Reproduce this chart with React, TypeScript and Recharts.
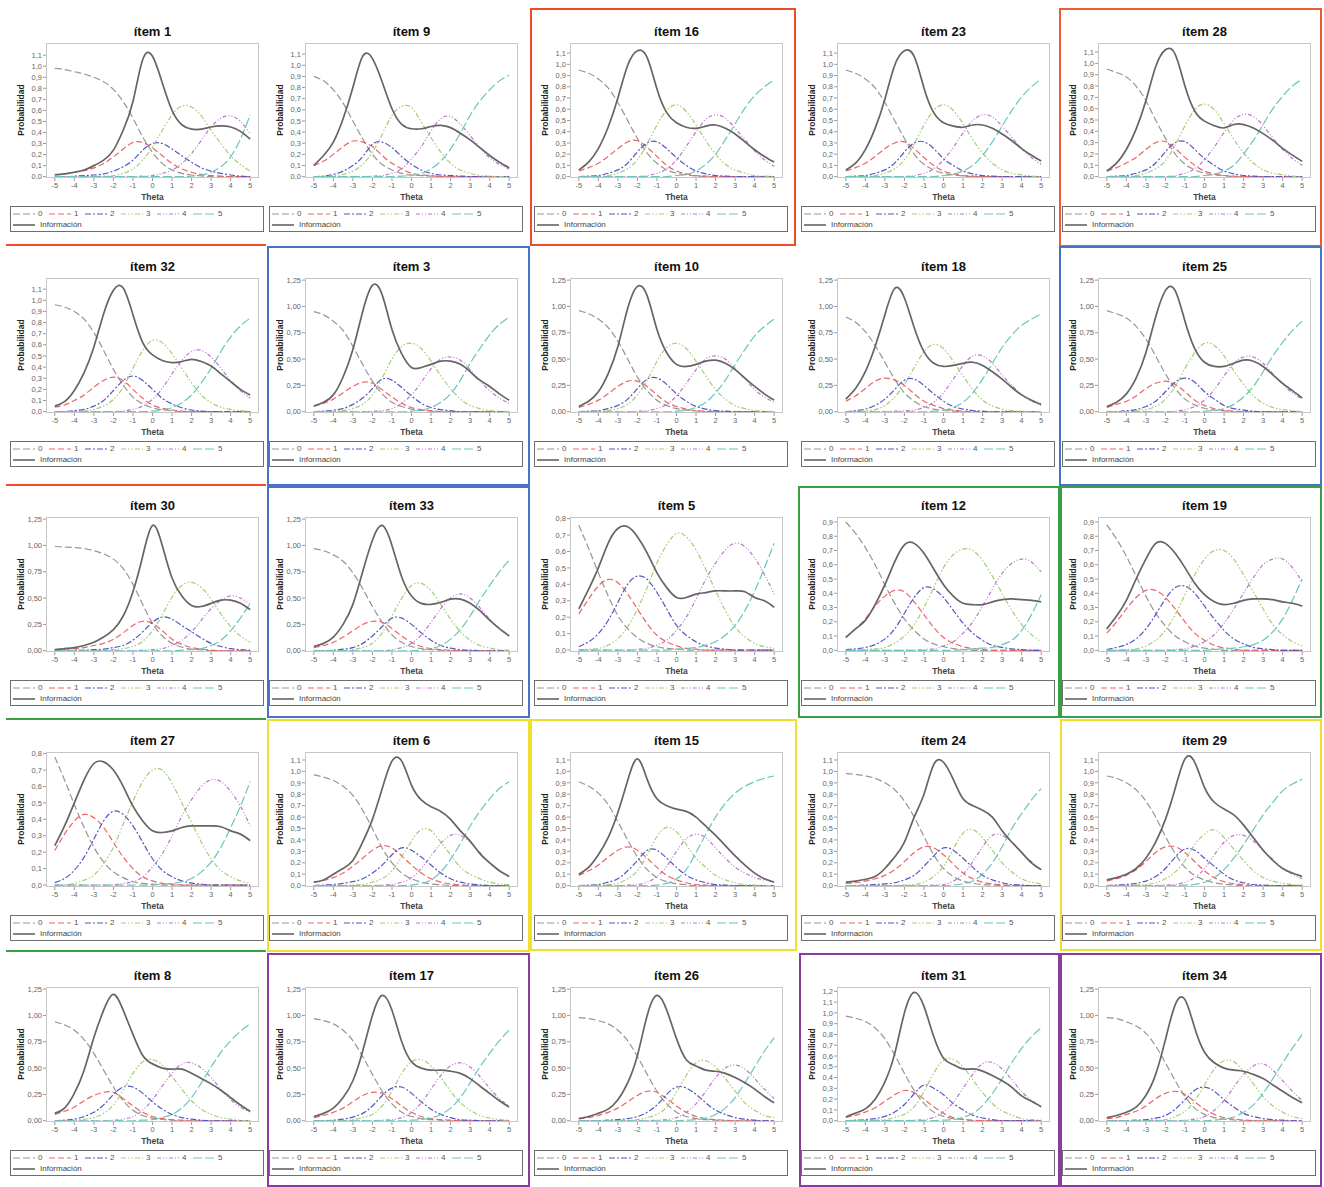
import { LineChart, Line, XAxis, YAxis } from "recharts";

// theta grid shared by every item (step 0.5)
const THETA = [-5, -4.5, -4, -3.5, -3, -2.5, -2, -1.5, -1, -0.5, 0, 0.5, 1, 1.5, 2, 2.5, 3, 3.5, 4, 4.5, 5];
const X_TICKS = [-5, -4, -3, -2, -1, 0, 1, 2, 3, 4, 5];
const CATEGORIES = ["0", "1", "2", "3", "4", "5"];

const TICKS_08 = [0, 0.1, 0.2, 0.3, 0.4, 0.5, 0.6, 0.7, 0.8];
const TICKS_09 = [0, 0.1, 0.2, 0.3, 0.4, 0.5, 0.6, 0.7, 0.8, 0.9];
const TICKS_11 = [0, 0.1, 0.2, 0.3, 0.4, 0.5, 0.6, 0.7, 0.8, 0.9, 1.0, 1.1];
const TICKS_12 = [0, 0.1, 0.2, 0.3, 0.4, 0.5, 0.6, 0.7, 0.8, 0.9, 1.0, 1.1, 1.2];
const TICKS_125 = [0, 0.25, 0.5, 0.75, 1.0, 1.25];

// each item: categories 0..5, then información
const ITEM_1 = [
  [0.98, 0.97, 0.95, 0.93, 0.9, 0.86, 0.79, 0.68, 0.53, 0.36, 0.22, 0.12, 0.06, 0.03, 0.015, 0.007, 0, 0, 0, 0, 0],
  [0.02, 0.025, 0.04, 0.055, 0.08, 0.12, 0.18, 0.25, 0.31, 0.31, 0.26, 0.19, 0.12, 0.07, 0.04, 0.02, 0.01, 0.005, 0, 0, 0],
  [0, 0, 0.005, 0.01, 0.015, 0.025, 0.05, 0.09, 0.15, 0.24, 0.3, 0.3, 0.25, 0.19, 0.13, 0.08, 0.05, 0.03, 0.015, 0.005, 0],
  [0, 0, 0, 0, 0, 0.005, 0.01, 0.03, 0.07, 0.15, 0.27, 0.42, 0.56, 0.64, 0.63, 0.55, 0.42, 0.3, 0.19, 0.11, 0.05],
  [0, 0, 0, 0, 0, 0, 0, 0, 0, 0.005, 0.01, 0.03, 0.06, 0.12, 0.21, 0.33, 0.45, 0.53, 0.55, 0.5, 0.39],
  [0, 0, 0, 0, 0, 0, 0, 0, 0, 0, 0, 0, 0, 0, 0.005, 0.015, 0.04, 0.09, 0.18, 0.34, 0.56],
  [0.015, 0.025, 0.04, 0.06, 0.1, 0.15, 0.24, 0.42, 0.68, 1.06, 1.09, 0.85, 0.6, 0.47, 0.43, 0.43, 0.45, 0.46, 0.45, 0.41, 0.34],
];
const ITEM_9 = [
  [0.9, 0.86, 0.78, 0.66, 0.5, 0.34, 0.2, 0.11, 0.06, 0.03, 0.015, 0.01, 0.005, 0, 0, 0, 0, 0, 0, 0, 0],
  [0.1, 0.14, 0.2, 0.27, 0.32, 0.31, 0.27, 0.19, 0.12, 0.07, 0.03, 0.015, 0.01, 0, 0, 0, 0, 0, 0, 0, 0],
  [0, 0.005, 0.02, 0.05, 0.1, 0.18, 0.29, 0.31, 0.26, 0.18, 0.11, 0.06, 0.03, 0.015, 0.01, 0.005, 0, 0, 0, 0, 0],
  [0, 0, 0.01, 0.02, 0.05, 0.11, 0.22, 0.38, 0.55, 0.63, 0.62, 0.49, 0.35, 0.22, 0.12, 0.06, 0.03, 0.01, 0.005, 0, 0],
  [0, 0, 0, 0, 0, 0, 0.005, 0.01, 0.03, 0.07, 0.16, 0.27, 0.41, 0.52, 0.54, 0.47, 0.37, 0.26, 0.17, 0.11, 0.07],
  [0, 0, 0, 0, 0, 0, 0, 0, 0, 0.005, 0.01, 0.03, 0.07, 0.14, 0.25, 0.39, 0.55, 0.68, 0.78, 0.86, 0.91],
  [0.1, 0.19, 0.31, 0.52, 0.8, 1.08, 1.06, 0.85, 0.61, 0.47, 0.43, 0.43, 0.45, 0.46, 0.44, 0.39, 0.33, 0.26, 0.19, 0.13, 0.08],
];
const ITEM_16 = [
  [0.95, 0.92, 0.87, 0.79, 0.66, 0.5, 0.34, 0.21, 0.12, 0.06, 0.03, 0.015, 0.007, 0, 0, 0, 0, 0, 0, 0, 0],
  [0.05, 0.08, 0.12, 0.18, 0.25, 0.31, 0.32, 0.26, 0.18, 0.1, 0.05, 0.025, 0.01, 0.005, 0, 0, 0, 0, 0, 0, 0],
  [0, 0.005, 0.01, 0.03, 0.06, 0.12, 0.22, 0.3, 0.31, 0.25, 0.17, 0.1, 0.05, 0.025, 0.01, 0.005, 0, 0, 0, 0, 0],
  [0, 0, 0.005, 0.01, 0.03, 0.07, 0.15, 0.29, 0.46, 0.59, 0.64, 0.58, 0.46, 0.32, 0.2, 0.11, 0.06, 0.03, 0.01, 0.005, 0],
  [0, 0, 0, 0, 0, 0, 0, 0.01, 0.03, 0.07, 0.15, 0.27, 0.4, 0.51, 0.55, 0.52, 0.43, 0.33, 0.23, 0.15, 0.09],
  [0, 0, 0, 0, 0, 0, 0, 0, 0, 0, 0.01, 0.02, 0.05, 0.11, 0.2, 0.33, 0.47, 0.61, 0.72, 0.8, 0.86],
  [0.06, 0.13, 0.25, 0.44, 0.7, 0.99, 1.12, 1.06, 0.78, 0.57, 0.48, 0.44, 0.43, 0.45, 0.46, 0.43, 0.38, 0.31, 0.24, 0.18, 0.13],
];
const ITEM_23 = [
  [0.95, 0.92, 0.87, 0.79, 0.66, 0.5, 0.34, 0.2, 0.11, 0.06, 0.03, 0.015, 0.007, 0, 0, 0, 0, 0, 0, 0, 0],
  [0.05, 0.08, 0.12, 0.18, 0.25, 0.3, 0.31, 0.25, 0.17, 0.1, 0.05, 0.025, 0.01, 0.005, 0, 0, 0, 0, 0, 0, 0],
  [0, 0.005, 0.01, 0.03, 0.06, 0.12, 0.22, 0.3, 0.31, 0.25, 0.16, 0.1, 0.05, 0.025, 0.01, 0.005, 0, 0, 0, 0, 0],
  [0, 0, 0.005, 0.01, 0.03, 0.07, 0.15, 0.29, 0.46, 0.59, 0.64, 0.59, 0.47, 0.33, 0.21, 0.12, 0.06, 0.03, 0.015, 0.005, 0],
  [0, 0, 0, 0, 0, 0, 0, 0.01, 0.03, 0.07, 0.15, 0.26, 0.39, 0.5, 0.55, 0.53, 0.45, 0.35, 0.25, 0.17, 0.11],
  [0, 0, 0, 0, 0, 0, 0, 0, 0, 0, 0.01, 0.02, 0.05, 0.1, 0.19, 0.31, 0.45, 0.59, 0.71, 0.8, 0.87],
  [0.06, 0.12, 0.24, 0.43, 0.69, 0.99, 1.12, 1.07, 0.79, 0.57, 0.48, 0.45, 0.44, 0.46, 0.46, 0.43, 0.38, 0.32, 0.25, 0.19, 0.14],
];
const ITEM_28 = [
  [0.95, 0.92, 0.88, 0.8, 0.67, 0.5, 0.34, 0.2, 0.11, 0.06, 0.03, 0.015, 0.01, 0, 0, 0, 0, 0, 0, 0, 0],
  [0.05, 0.08, 0.12, 0.17, 0.24, 0.3, 0.31, 0.25, 0.17, 0.1, 0.05, 0.025, 0.01, 0.005, 0, 0, 0, 0, 0, 0, 0],
  [0, 0.005, 0.01, 0.03, 0.06, 0.12, 0.22, 0.3, 0.31, 0.24, 0.16, 0.1, 0.05, 0.025, 0.01, 0.005, 0, 0, 0, 0, 0],
  [0, 0, 0.005, 0.01, 0.03, 0.07, 0.14, 0.28, 0.45, 0.59, 0.64, 0.59, 0.47, 0.33, 0.21, 0.12, 0.06, 0.03, 0.015, 0.005, 0],
  [0, 0, 0, 0, 0, 0, 0, 0.01, 0.03, 0.07, 0.15, 0.26, 0.39, 0.5, 0.55, 0.53, 0.45, 0.34, 0.24, 0.16, 0.1],
  [0, 0, 0, 0, 0, 0, 0, 0, 0, 0, 0.01, 0.02, 0.05, 0.1, 0.2, 0.32, 0.46, 0.6, 0.71, 0.8, 0.86],
  [0.05, 0.12, 0.24, 0.42, 0.67, 0.97, 1.12, 1.08, 0.8, 0.58, 0.49, 0.45, 0.43, 0.46, 0.46, 0.43, 0.38, 0.32, 0.25, 0.19, 0.135],
];
const ITEM_32 = [
  [0.96, 0.94, 0.9, 0.83, 0.71, 0.55, 0.38, 0.24, 0.13, 0.07, 0.035, 0.017, 0.008, 0, 0, 0, 0, 0, 0, 0, 0],
  [0.04, 0.06, 0.1, 0.15, 0.22, 0.28, 0.31, 0.28, 0.2, 0.12, 0.06, 0.03, 0.015, 0.005, 0, 0, 0, 0, 0, 0, 0],
  [0, 0, 0.01, 0.02, 0.05, 0.1, 0.19, 0.28, 0.32, 0.28, 0.2, 0.12, 0.07, 0.035, 0.015, 0.005, 0, 0, 0, 0, 0],
  [0, 0, 0, 0.005, 0.02, 0.05, 0.11, 0.22, 0.39, 0.55, 0.64, 0.62, 0.52, 0.39, 0.26, 0.15, 0.08, 0.04, 0.02, 0.01, 0],
  [0, 0, 0, 0, 0, 0, 0, 0.005, 0.02, 0.05, 0.11, 0.21, 0.34, 0.46, 0.54, 0.55, 0.49, 0.39, 0.28, 0.19, 0.12],
  [0, 0, 0, 0, 0, 0, 0, 0, 0, 0, 0.005, 0.015, 0.035, 0.08, 0.15, 0.26, 0.39, 0.54, 0.67, 0.77, 0.84],
  [0.05, 0.09, 0.19, 0.35, 0.58, 0.88, 1.09, 1.11, 0.87, 0.62, 0.51, 0.46, 0.44, 0.45, 0.47, 0.45, 0.41, 0.34, 0.27, 0.2, 0.15],
];
const ITEM_3 = [
  [0.95, 0.92, 0.86, 0.77, 0.62, 0.45, 0.29, 0.17, 0.09, 0.05, 0.025, 0.012, 0.006, 0, 0, 0, 0, 0, 0, 0, 0],
  [0.05, 0.08, 0.12, 0.18, 0.24, 0.28, 0.27, 0.21, 0.14, 0.08, 0.04, 0.02, 0.01, 0, 0, 0, 0, 0, 0, 0, 0],
  [0, 0.005, 0.015, 0.03, 0.07, 0.13, 0.22, 0.31, 0.3, 0.23, 0.15, 0.08, 0.04, 0.02, 0.01, 0, 0, 0, 0, 0, 0],
  [0, 0, 0.005, 0.01, 0.03, 0.07, 0.16, 0.32, 0.5, 0.62, 0.65, 0.6, 0.48, 0.34, 0.22, 0.12, 0.06, 0.03, 0.01, 0.005, 0],
  [0, 0, 0, 0, 0, 0, 0.005, 0.01, 0.03, 0.08, 0.16, 0.28, 0.41, 0.5, 0.52, 0.49, 0.4, 0.29, 0.2, 0.13, 0.08],
  [0, 0, 0, 0, 0, 0, 0, 0, 0, 0, 0.005, 0.015, 0.04, 0.09, 0.17, 0.3, 0.46, 0.6, 0.73, 0.83, 0.9],
  [0.055, 0.09, 0.16, 0.33, 0.59, 0.95, 1.2, 1.11, 0.78, 0.55, 0.42, 0.42, 0.45, 0.48, 0.48, 0.45, 0.38, 0.3, 0.24, 0.17, 0.11],
];
const ITEM_10 = [
  [0.96, 0.93, 0.88, 0.8, 0.67, 0.5, 0.33, 0.2, 0.11, 0.06, 0.03, 0.015, 0.007, 0, 0, 0, 0, 0, 0, 0, 0],
  [0.04, 0.07, 0.11, 0.17, 0.24, 0.29, 0.29, 0.24, 0.16, 0.09, 0.05, 0.025, 0.01, 0.005, 0, 0, 0, 0, 0, 0, 0],
  [0, 0.005, 0.01, 0.03, 0.06, 0.12, 0.22, 0.31, 0.32, 0.26, 0.17, 0.1, 0.05, 0.025, 0.01, 0.005, 0, 0, 0, 0, 0],
  [0, 0, 0.005, 0.01, 0.03, 0.07, 0.16, 0.3, 0.48, 0.61, 0.65, 0.6, 0.48, 0.34, 0.21, 0.12, 0.06, 0.03, 0.01, 0.005, 0],
  [0, 0, 0, 0, 0, 0, 0.005, 0.01, 0.03, 0.07, 0.15, 0.27, 0.4, 0.5, 0.53, 0.5, 0.41, 0.31, 0.21, 0.14, 0.09],
  [0, 0, 0, 0, 0, 0, 0, 0, 0, 0, 0.005, 0.015, 0.04, 0.09, 0.18, 0.3, 0.45, 0.59, 0.72, 0.81, 0.88],
  [0.05, 0.1, 0.19, 0.36, 0.62, 0.98, 1.19, 1.1, 0.78, 0.56, 0.45, 0.43, 0.45, 0.48, 0.49, 0.46, 0.4, 0.32, 0.24, 0.17, 0.11],
];
const ITEM_18 = [
  [0.9, 0.85, 0.76, 0.63, 0.47, 0.31, 0.18, 0.1, 0.05, 0.025, 0.012, 0.006, 0, 0, 0, 0, 0, 0, 0, 0, 0],
  [0.1, 0.15, 0.22, 0.29, 0.32, 0.3, 0.25, 0.17, 0.1, 0.06, 0.03, 0.015, 0.006, 0, 0, 0, 0, 0, 0, 0, 0],
  [0, 0.01, 0.025, 0.06, 0.12, 0.21, 0.3, 0.31, 0.25, 0.17, 0.1, 0.05, 0.025, 0.012, 0.005, 0, 0, 0, 0, 0, 0],
  [0, 0, 0.01, 0.02, 0.06, 0.14, 0.26, 0.42, 0.57, 0.64, 0.6, 0.48, 0.34, 0.21, 0.11, 0.055, 0.025, 0.01, 0.005, 0, 0],
  [0, 0, 0, 0, 0, 0.005, 0.01, 0.015, 0.04, 0.09, 0.18, 0.31, 0.44, 0.53, 0.53, 0.46, 0.35, 0.25, 0.16, 0.1, 0.06],
  [0, 0, 0, 0, 0, 0, 0, 0, 0, 0.005, 0.015, 0.04, 0.09, 0.18, 0.31, 0.46, 0.61, 0.73, 0.82, 0.88, 0.93],
  [0.12, 0.22, 0.38, 0.62, 0.92, 1.17, 1.08, 0.8, 0.57, 0.46, 0.43, 0.44, 0.46, 0.47, 0.44, 0.38, 0.31, 0.23, 0.16, 0.11, 0.07],
];
const ITEM_25 = [
  [0.96, 0.93, 0.89, 0.81, 0.69, 0.53, 0.36, 0.22, 0.12, 0.065, 0.033, 0.016, 0.008, 0, 0, 0, 0, 0, 0, 0, 0],
  [0.04, 0.07, 0.1, 0.15, 0.22, 0.27, 0.29, 0.26, 0.19, 0.11, 0.06, 0.03, 0.015, 0.005, 0, 0, 0, 0, 0, 0, 0],
  [0, 0, 0.01, 0.02, 0.05, 0.1, 0.19, 0.28, 0.32, 0.28, 0.19, 0.12, 0.06, 0.03, 0.015, 0.005, 0, 0, 0, 0, 0],
  [0, 0, 0, 0.005, 0.02, 0.05, 0.12, 0.24, 0.41, 0.56, 0.65, 0.63, 0.53, 0.39, 0.26, 0.15, 0.08, 0.04, 0.02, 0.01, 0],
  [0, 0, 0, 0, 0, 0, 0, 0.005, 0.02, 0.05, 0.11, 0.21, 0.34, 0.46, 0.52, 0.52, 0.46, 0.36, 0.26, 0.18, 0.12],
  [0, 0, 0, 0, 0, 0, 0, 0, 0, 0, 0.005, 0.01, 0.03, 0.07, 0.14, 0.24, 0.38, 0.53, 0.66, 0.77, 0.86],
  [0.05, 0.09, 0.17, 0.32, 0.56, 0.9, 1.15, 1.15, 0.86, 0.6, 0.47, 0.43, 0.43, 0.46, 0.49, 0.48, 0.43, 0.35, 0.27, 0.2, 0.13],
];
const ITEM_30 = [
  [0.99, 0.985, 0.98, 0.97, 0.95, 0.92, 0.87, 0.78, 0.63, 0.44, 0.26, 0.14, 0.07, 0.035, 0.015, 0.008, 0, 0, 0, 0, 0],
  [0.01, 0.015, 0.02, 0.03, 0.05, 0.07, 0.11, 0.17, 0.24, 0.28, 0.26, 0.19, 0.11, 0.06, 0.03, 0.015, 0.005, 0, 0, 0, 0],
  [0, 0, 0.005, 0.005, 0.01, 0.015, 0.03, 0.05, 0.1, 0.18, 0.27, 0.32, 0.3, 0.24, 0.18, 0.12, 0.07, 0.04, 0.02, 0.01, 0.005],
  [0, 0, 0, 0, 0, 0.005, 0.01, 0.02, 0.04, 0.09, 0.19, 0.34, 0.51, 0.62, 0.65, 0.6, 0.49, 0.35, 0.23, 0.14, 0.08],
  [0, 0, 0, 0, 0, 0, 0, 0, 0, 0.005, 0.01, 0.02, 0.05, 0.1, 0.18, 0.29, 0.4, 0.48, 0.52, 0.5, 0.44],
  [0, 0, 0, 0, 0, 0, 0, 0, 0, 0, 0, 0, 0, 0.005, 0.01, 0.02, 0.05, 0.1, 0.19, 0.31, 0.45],
  [0.01, 0.02, 0.03, 0.05, 0.08, 0.13, 0.2, 0.33, 0.56, 0.9, 1.19, 1.0, 0.69, 0.52, 0.43, 0.42, 0.45, 0.48, 0.48, 0.45, 0.39],
];
const ITEM_33 = [
  [0.97, 0.95, 0.91, 0.85, 0.74, 0.59, 0.42, 0.27, 0.15, 0.08, 0.04, 0.02, 0.01, 0.005, 0, 0, 0, 0, 0, 0, 0],
  [0.03, 0.05, 0.08, 0.13, 0.19, 0.25, 0.28, 0.27, 0.21, 0.14, 0.08, 0.04, 0.02, 0.01, 0.005, 0, 0, 0, 0, 0, 0],
  [0, 0, 0.005, 0.015, 0.03, 0.07, 0.14, 0.23, 0.31, 0.31, 0.25, 0.17, 0.1, 0.05, 0.025, 0.01, 0.005, 0, 0, 0, 0],
  [0, 0, 0, 0, 0.01, 0.03, 0.07, 0.17, 0.33, 0.5, 0.62, 0.64, 0.57, 0.44, 0.3, 0.18, 0.1, 0.05, 0.025, 0.01, 0.005],
  [0, 0, 0, 0, 0, 0, 0, 0, 0.01, 0.03, 0.07, 0.15, 0.27, 0.4, 0.5, 0.54, 0.5, 0.41, 0.3, 0.21, 0.14],
  [0, 0, 0, 0, 0, 0, 0, 0, 0, 0, 0, 0.005, 0.02, 0.05, 0.11, 0.2, 0.33, 0.48, 0.62, 0.75, 0.86],
  [0.04, 0.07, 0.13, 0.25, 0.44, 0.75, 1.05, 1.19, 1.0, 0.7, 0.52, 0.45, 0.44, 0.46, 0.49, 0.49, 0.45, 0.38, 0.29, 0.21, 0.14],
];
const ITEM_5 = [
  [0.76, 0.62, 0.47, 0.33, 0.21, 0.13, 0.075, 0.04, 0.02, 0.01, 0.005, 0, 0, 0, 0, 0, 0, 0, 0, 0, 0],
  [0.22, 0.31, 0.39, 0.43, 0.41, 0.34, 0.25, 0.16, 0.09, 0.05, 0.025, 0.01, 0.005, 0, 0, 0, 0, 0, 0, 0, 0],
  [0.02, 0.05, 0.1, 0.18, 0.29, 0.4, 0.45, 0.43, 0.35, 0.25, 0.15, 0.09, 0.05, 0.025, 0.012, 0.005, 0, 0, 0, 0, 0],
  [0, 0.005, 0.01, 0.03, 0.07, 0.14, 0.25, 0.38, 0.53, 0.64, 0.71, 0.69, 0.61, 0.49, 0.36, 0.24, 0.14, 0.08, 0.04, 0.02, 0.01],
  [0, 0, 0, 0, 0, 0, 0.005, 0.01, 0.03, 0.06, 0.12, 0.2, 0.31, 0.43, 0.53, 0.61, 0.65, 0.63, 0.56, 0.46, 0.34],
  [0, 0, 0, 0, 0, 0, 0, 0, 0, 0, 0.005, 0.01, 0.015, 0.03, 0.05, 0.09, 0.15, 0.24, 0.36, 0.5, 0.65],
  [0.25, 0.37, 0.5, 0.65, 0.74, 0.75, 0.69, 0.59, 0.47, 0.38, 0.32, 0.32, 0.34, 0.35, 0.36, 0.36, 0.36, 0.355, 0.32, 0.3, 0.26],
];
const ITEM_12 = [
  [0.9, 0.82, 0.72, 0.6, 0.46, 0.33, 0.22, 0.14, 0.08, 0.045, 0.025, 0.012, 0.005, 0, 0, 0, 0, 0, 0, 0, 0],
  [0.09, 0.15, 0.22, 0.31, 0.38, 0.42, 0.41, 0.34, 0.25, 0.16, 0.09, 0.05, 0.025, 0.012, 0.005, 0, 0, 0, 0, 0, 0],
  [0.005, 0.01, 0.02, 0.04, 0.08, 0.15, 0.26, 0.37, 0.44, 0.43, 0.37, 0.28, 0.19, 0.12, 0.07, 0.035, 0.02, 0.01, 0.005, 0, 0],
  [0, 0, 0.005, 0.01, 0.02, 0.05, 0.1, 0.18, 0.3, 0.44, 0.58, 0.67, 0.71, 0.7, 0.63, 0.52, 0.4, 0.28, 0.18, 0.11, 0.06],
  [0, 0, 0, 0, 0, 0, 0, 0, 0.005, 0.01, 0.03, 0.06, 0.12, 0.2, 0.31, 0.43, 0.54, 0.61, 0.64, 0.62, 0.55],
  [0, 0, 0, 0, 0, 0, 0, 0, 0, 0, 0, 0, 0.005, 0.01, 0.015, 0.02, 0.04, 0.07, 0.14, 0.25, 0.39],
  [0.09, 0.15, 0.21, 0.32, 0.46, 0.62, 0.74, 0.75, 0.68, 0.57, 0.46, 0.38, 0.33, 0.32, 0.32, 0.34, 0.355, 0.36, 0.355, 0.35, 0.34],
];
const ITEM_19 = [
  [0.88, 0.78, 0.66, 0.52, 0.38, 0.26, 0.17, 0.1, 0.06, 0.03, 0.015, 0.007, 0, 0, 0, 0, 0, 0, 0, 0, 0],
  [0.12, 0.2, 0.29, 0.37, 0.42, 0.42, 0.37, 0.29, 0.2, 0.12, 0.07, 0.035, 0.017, 0.008, 0, 0, 0, 0, 0, 0, 0],
  [0.005, 0.02, 0.04, 0.08, 0.15, 0.25, 0.36, 0.44, 0.45, 0.4, 0.31, 0.22, 0.14, 0.08, 0.045, 0.02, 0.01, 0.005, 0, 0, 0],
  [0, 0, 0.005, 0.01, 0.03, 0.07, 0.14, 0.25, 0.39, 0.53, 0.64, 0.7, 0.7, 0.64, 0.53, 0.41, 0.29, 0.18, 0.11, 0.06, 0.03],
  [0, 0, 0, 0, 0, 0, 0, 0.005, 0.01, 0.03, 0.06, 0.11, 0.19, 0.29, 0.4, 0.51, 0.6, 0.64, 0.64, 0.58, 0.48],
  [0, 0, 0, 0, 0, 0, 0, 0, 0, 0, 0, 0.005, 0.01, 0.015, 0.025, 0.04, 0.07, 0.13, 0.22, 0.35, 0.5],
  [0.15, 0.24, 0.35, 0.5, 0.64, 0.75, 0.75, 0.68, 0.58, 0.47, 0.39, 0.34, 0.32, 0.33, 0.35, 0.36, 0.36, 0.355, 0.34, 0.33, 0.31],
];
const ITEM_27 = [
  [0.78, 0.64, 0.49, 0.35, 0.23, 0.14, 0.08, 0.045, 0.02, 0.01, 0.005, 0, 0, 0, 0, 0, 0, 0, 0, 0, 0],
  [0.21, 0.31, 0.39, 0.43, 0.41, 0.35, 0.26, 0.17, 0.1, 0.05, 0.025, 0.01, 0.005, 0, 0, 0, 0, 0, 0, 0, 0],
  [0.015, 0.04, 0.09, 0.17, 0.28, 0.39, 0.45, 0.43, 0.36, 0.26, 0.16, 0.09, 0.05, 0.025, 0.012, 0.005, 0, 0, 0, 0, 0],
  [0, 0, 0.01, 0.03, 0.06, 0.13, 0.23, 0.37, 0.51, 0.63, 0.7, 0.7, 0.62, 0.5, 0.38, 0.26, 0.16, 0.09, 0.05, 0.025, 0.01],
  [0, 0, 0, 0, 0, 0, 0, 0.01, 0.02, 0.05, 0.11, 0.19, 0.3, 0.42, 0.52, 0.6, 0.64, 0.63, 0.57, 0.48, 0.36],
  [0, 0, 0, 0, 0, 0, 0, 0, 0, 0, 0, 0.005, 0.01, 0.02, 0.04, 0.08, 0.14, 0.23, 0.35, 0.48, 0.63],
  [0.24, 0.36, 0.5, 0.64, 0.74, 0.75, 0.7, 0.6, 0.48, 0.39, 0.33, 0.32, 0.33, 0.35, 0.36, 0.36, 0.36, 0.355, 0.33, 0.31, 0.27],
];
const ITEM_6 = [
  [0.97, 0.95, 0.92, 0.87, 0.79, 0.66, 0.5, 0.33, 0.2, 0.11, 0.06, 0.03, 0.015, 0.007, 0, 0, 0, 0, 0, 0, 0],
  [0.03, 0.045, 0.07, 0.11, 0.17, 0.24, 0.31, 0.35, 0.33, 0.26, 0.18, 0.11, 0.06, 0.03, 0.015, 0.007, 0, 0, 0, 0, 0],
  [0, 0.005, 0.01, 0.02, 0.035, 0.06, 0.11, 0.18, 0.27, 0.33, 0.31, 0.25, 0.18, 0.11, 0.06, 0.03, 0.015, 0.007, 0, 0, 0],
  [0, 0, 0, 0, 0.005, 0.01, 0.03, 0.06, 0.13, 0.25, 0.39, 0.49, 0.48, 0.38, 0.27, 0.16, 0.1, 0.06, 0.03, 0.015, 0.007],
  [0, 0, 0, 0, 0, 0, 0, 0.005, 0.01, 0.03, 0.07, 0.15, 0.26, 0.37, 0.44, 0.44, 0.38, 0.29, 0.2, 0.13, 0.08],
  [0, 0, 0, 0, 0, 0, 0, 0, 0, 0, 0.005, 0.02, 0.05, 0.12, 0.23, 0.37, 0.52, 0.65, 0.76, 0.85, 0.91],
  [0.03, 0.05, 0.1, 0.15, 0.22, 0.38, 0.58, 0.85, 1.09, 1.09, 0.88, 0.75, 0.69, 0.65, 0.58, 0.48, 0.39, 0.28, 0.2, 0.13, 0.08],
];
const ITEM_15 = [
  [0.91, 0.87, 0.81, 0.71, 0.56, 0.4, 0.25, 0.14, 0.07, 0.035, 0.017, 0.008, 0, 0, 0, 0, 0, 0, 0, 0, 0],
  [0.09, 0.13, 0.18, 0.25, 0.31, 0.34, 0.31, 0.24, 0.16, 0.09, 0.05, 0.025, 0.01, 0.005, 0, 0, 0, 0, 0, 0, 0],
  [0, 0.005, 0.01, 0.03, 0.06, 0.13, 0.22, 0.31, 0.31, 0.24, 0.16, 0.09, 0.05, 0.025, 0.01, 0.005, 0, 0, 0, 0, 0],
  [0, 0, 0.005, 0.01, 0.02, 0.06, 0.13, 0.27, 0.43, 0.51, 0.47, 0.36, 0.24, 0.16, 0.09, 0.05, 0.025, 0.01, 0.005, 0, 0],
  [0, 0, 0, 0, 0, 0.005, 0.01, 0.03, 0.08, 0.17, 0.3, 0.41, 0.45, 0.42, 0.33, 0.24, 0.16, 0.11, 0.07, 0.05, 0.03],
  [0, 0, 0, 0, 0, 0, 0, 0, 0.005, 0.02, 0.06, 0.14, 0.29, 0.45, 0.6, 0.72, 0.81, 0.87, 0.91, 0.94, 0.96],
  [0.1, 0.16, 0.27, 0.42, 0.64, 0.92, 1.11, 0.93, 0.76, 0.7, 0.67, 0.65, 0.6, 0.52, 0.44, 0.35, 0.26, 0.18, 0.11, 0.06, 0.03],
];
const ITEM_24 = [
  [0.98, 0.975, 0.96, 0.94, 0.9, 0.84, 0.74, 0.6, 0.43, 0.27, 0.15, 0.08, 0.04, 0.02, 0.01, 0.005, 0, 0, 0, 0, 0],
  [0.02, 0.025, 0.04, 0.06, 0.09, 0.14, 0.21, 0.29, 0.34, 0.33, 0.27, 0.19, 0.11, 0.06, 0.03, 0.015, 0.007, 0, 0, 0, 0],
  [0, 0, 0.005, 0.01, 0.015, 0.025, 0.05, 0.09, 0.17, 0.26, 0.33, 0.31, 0.24, 0.16, 0.09, 0.05, 0.025, 0.01, 0.005, 0, 0],
  [0, 0, 0, 0, 0, 0, 0.005, 0.01, 0.03, 0.08, 0.17, 0.32, 0.46, 0.49, 0.42, 0.31, 0.2, 0.12, 0.06, 0.03, 0.015],
  [0, 0, 0, 0, 0, 0, 0, 0, 0, 0.005, 0.01, 0.04, 0.1, 0.21, 0.34, 0.44, 0.44, 0.38, 0.29, 0.21, 0.14],
  [0, 0, 0, 0, 0, 0, 0, 0, 0, 0, 0, 0.005, 0.015, 0.04, 0.1, 0.2, 0.34, 0.5, 0.63, 0.75, 0.85],
  [0.03, 0.04, 0.055, 0.08, 0.15, 0.25, 0.38, 0.6, 0.8, 1.06, 1.08, 0.93, 0.76, 0.7, 0.66, 0.6, 0.48, 0.38, 0.29, 0.2, 0.14],
];
const ITEM_29 = [
  [0.96, 0.94, 0.9, 0.84, 0.74, 0.6, 0.43, 0.28, 0.16, 0.09, 0.05, 0.025, 0.012, 0.005, 0, 0, 0, 0, 0, 0, 0],
  [0.04, 0.06, 0.09, 0.14, 0.21, 0.29, 0.34, 0.34, 0.29, 0.21, 0.13, 0.07, 0.035, 0.017, 0.008, 0, 0, 0, 0, 0, 0],
  [0, 0.005, 0.01, 0.02, 0.04, 0.08, 0.15, 0.25, 0.32, 0.31, 0.24, 0.17, 0.1, 0.05, 0.025, 0.01, 0.005, 0, 0, 0, 0],
  [0, 0, 0, 0.005, 0.01, 0.025, 0.06, 0.12, 0.22, 0.36, 0.45, 0.49, 0.42, 0.32, 0.22, 0.13, 0.07, 0.04, 0.02, 0.01, 0.005],
  [0, 0, 0, 0, 0, 0, 0.005, 0.01, 0.03, 0.07, 0.15, 0.27, 0.38, 0.44, 0.44, 0.39, 0.31, 0.23, 0.15, 0.1, 0.06],
  [0, 0, 0, 0, 0, 0, 0, 0, 0.005, 0.01, 0.03, 0.07, 0.14, 0.24, 0.36, 0.49, 0.62, 0.73, 0.83, 0.89, 0.93],
  [0.05, 0.07, 0.1, 0.15, 0.24, 0.38, 0.58, 0.85, 1.11, 1.08, 0.86, 0.73, 0.67, 0.62, 0.53, 0.42, 0.31, 0.22, 0.15, 0.11, 0.08],
];
const ITEM_8 = [
  [0.94, 0.91, 0.86, 0.77, 0.64, 0.48, 0.32, 0.19, 0.1, 0.05, 0.025, 0.012, 0.005, 0, 0, 0, 0, 0, 0, 0, 0],
  [0.06, 0.09, 0.13, 0.19, 0.24, 0.27, 0.27, 0.21, 0.14, 0.08, 0.04, 0.02, 0.01, 0.005, 0, 0, 0, 0, 0, 0, 0],
  [0, 0.005, 0.015, 0.04, 0.08, 0.15, 0.25, 0.32, 0.32, 0.26, 0.18, 0.11, 0.06, 0.03, 0.015, 0.005, 0, 0, 0, 0, 0],
  [0, 0, 0.005, 0.015, 0.03, 0.07, 0.15, 0.29, 0.45, 0.56, 0.58, 0.53, 0.42, 0.3, 0.19, 0.11, 0.06, 0.03, 0.015, 0.005, 0],
  [0, 0, 0, 0, 0, 0, 0.005, 0.015, 0.04, 0.1, 0.2, 0.33, 0.45, 0.54, 0.55, 0.5, 0.41, 0.3, 0.2, 0.13, 0.08],
  [0, 0, 0, 0, 0, 0, 0, 0, 0, 0.005, 0.01, 0.03, 0.06, 0.12, 0.22, 0.36, 0.51, 0.65, 0.76, 0.85, 0.92],
  [0.07, 0.12, 0.26, 0.48, 0.79, 1.05, 1.2, 1.05, 0.82, 0.62, 0.54, 0.5, 0.49, 0.49, 0.45, 0.4, 0.35, 0.29, 0.22, 0.15, 0.09],
];
const ITEM_17 = [
  [0.97, 0.95, 0.92, 0.86, 0.76, 0.61, 0.44, 0.28, 0.16, 0.08, 0.04, 0.02, 0.01, 0.005, 0, 0, 0, 0, 0, 0, 0],
  [0.03, 0.05, 0.08, 0.12, 0.18, 0.24, 0.27, 0.26, 0.21, 0.14, 0.08, 0.04, 0.02, 0.01, 0.005, 0, 0, 0, 0, 0, 0],
  [0, 0, 0.005, 0.015, 0.035, 0.07, 0.14, 0.24, 0.31, 0.32, 0.26, 0.18, 0.11, 0.06, 0.03, 0.01, 0.005, 0, 0, 0, 0],
  [0, 0, 0, 0, 0.01, 0.03, 0.06, 0.14, 0.28, 0.45, 0.56, 0.58, 0.52, 0.41, 0.28, 0.17, 0.1, 0.05, 0.025, 0.01, 0.005],
  [0, 0, 0, 0, 0, 0, 0, 0.005, 0.01, 0.03, 0.08, 0.17, 0.3, 0.43, 0.52, 0.55, 0.51, 0.42, 0.31, 0.21, 0.14],
  [0, 0, 0, 0, 0, 0, 0, 0, 0, 0, 0.005, 0.01, 0.025, 0.06, 0.12, 0.22, 0.36, 0.51, 0.64, 0.76, 0.86],
  [0.04, 0.07, 0.12, 0.22, 0.38, 0.66, 1.0, 1.19, 1.05, 0.75, 0.56, 0.5, 0.48, 0.48, 0.47, 0.45, 0.4, 0.33, 0.26, 0.19, 0.13],
];
const ITEM_26 = [
  [0.98, 0.97, 0.95, 0.92, 0.86, 0.76, 0.61, 0.44, 0.28, 0.16, 0.08, 0.04, 0.02, 0.01, 0.005, 0, 0, 0, 0, 0, 0],
  [0.02, 0.03, 0.05, 0.08, 0.12, 0.18, 0.24, 0.28, 0.27, 0.21, 0.14, 0.08, 0.04, 0.02, 0.01, 0.005, 0, 0, 0, 0, 0],
  [0, 0, 0, 0.005, 0.01, 0.02, 0.04, 0.08, 0.15, 0.25, 0.32, 0.31, 0.25, 0.17, 0.1, 0.06, 0.03, 0.015, 0.005, 0, 0],
  [0, 0, 0, 0, 0, 0.005, 0.01, 0.03, 0.06, 0.13, 0.27, 0.43, 0.55, 0.57, 0.51, 0.4, 0.28, 0.17, 0.1, 0.05, 0.03],
  [0, 0, 0, 0, 0, 0, 0, 0, 0.005, 0.01, 0.03, 0.08, 0.16, 0.28, 0.41, 0.5, 0.53, 0.49, 0.4, 0.3, 0.21],
  [0, 0, 0, 0, 0, 0, 0, 0, 0, 0, 0, 0.005, 0.01, 0.025, 0.06, 0.12, 0.22, 0.36, 0.51, 0.66, 0.79],
  [0.02, 0.04, 0.07, 0.11, 0.2, 0.36, 0.62, 1.0, 1.19, 1.05, 0.78, 0.58, 0.52, 0.48, 0.47, 0.45, 0.41, 0.36, 0.3, 0.23, 0.17],
];
const ITEM_31 = [
  [0.97, 0.95, 0.92, 0.86, 0.76, 0.61, 0.44, 0.28, 0.16, 0.08, 0.04, 0.02, 0.01, 0, 0, 0, 0, 0, 0, 0, 0],
  [0.03, 0.05, 0.08, 0.12, 0.18, 0.24, 0.28, 0.26, 0.2, 0.13, 0.07, 0.03, 0.015, 0.005, 0, 0, 0, 0, 0, 0, 0],
  [0, 0.005, 0.01, 0.02, 0.04, 0.08, 0.15, 0.25, 0.33, 0.3, 0.24, 0.16, 0.1, 0.05, 0.025, 0.01, 0, 0, 0, 0, 0],
  [0, 0, 0, 0.005, 0.01, 0.03, 0.06, 0.13, 0.27, 0.44, 0.56, 0.57, 0.5, 0.38, 0.26, 0.16, 0.09, 0.05, 0.02, 0.01, 0.005],
  [0, 0, 0, 0, 0, 0, 0, 0.005, 0.01, 0.03, 0.08, 0.17, 0.3, 0.43, 0.53, 0.54, 0.48, 0.38, 0.27, 0.19, 0.13],
  [0, 0, 0, 0, 0, 0, 0, 0, 0, 0, 0.005, 0.01, 0.03, 0.07, 0.14, 0.25, 0.39, 0.54, 0.67, 0.78, 0.86],
  [0.035, 0.07, 0.11, 0.2, 0.36, 0.62, 1.0, 1.19, 1.06, 0.78, 0.58, 0.52, 0.48, 0.48, 0.46, 0.42, 0.37, 0.31, 0.23, 0.18, 0.13],
];
const ITEM_34 = [
  [0.98, 0.97, 0.94, 0.9, 0.83, 0.71, 0.55, 0.38, 0.23, 0.12, 0.06, 0.03, 0.015, 0.007, 0, 0, 0, 0, 0, 0, 0],
  [0.02, 0.03, 0.06, 0.09, 0.14, 0.21, 0.26, 0.28, 0.25, 0.18, 0.11, 0.06, 0.03, 0.015, 0.007, 0, 0, 0, 0, 0, 0],
  [0, 0, 0, 0.005, 0.01, 0.025, 0.05, 0.11, 0.2, 0.29, 0.32, 0.28, 0.2, 0.13, 0.07, 0.04, 0.02, 0.01, 0.005, 0, 0],
  [0, 0, 0, 0, 0, 0.005, 0.01, 0.04, 0.09, 0.19, 0.34, 0.49, 0.57, 0.56, 0.47, 0.35, 0.23, 0.14, 0.08, 0.04, 0.02],
  [0, 0, 0, 0, 0, 0, 0, 0, 0.005, 0.015, 0.04, 0.1, 0.19, 0.32, 0.44, 0.52, 0.54, 0.48, 0.38, 0.28, 0.19],
  [0, 0, 0, 0, 0, 0, 0, 0, 0, 0, 0, 0.005, 0.015, 0.035, 0.08, 0.15, 0.26, 0.4, 0.55, 0.69, 0.82],
  [0.03, 0.05, 0.08, 0.13, 0.24, 0.44, 0.77, 1.1, 1.15, 0.88, 0.65, 0.55, 0.5, 0.48, 0.47, 0.44, 0.4, 0.34, 0.28, 0.22, 0.17],
];

const FONT = "'Liberation Sans', Arial, sans-serif";

const SERIES = [
  { key: "c0", color: "#969696", dash: "7 3", width: 1.2 },
  { key: "c1", color: "#ef6464", dash: "6 3", width: 1.2 },
  { key: "c2", color: "#5656c4", dash: "6 2 2 2", width: 1.2 },
  { key: "c3", color: "#a2cf74", dash: "5 2 1.5 2 1.5 2", width: 1.2 },
  { key: "c4", color: "#bd76cd", dash: "4 2 1 2 1 2", width: 1.2 },
  { key: "c5", color: "#66c7ba", dash: "9 3", width: 1.2 },
  { key: "info", color: "#656565", dash: undefined, width: 1.7 },
];

// grid layout of the pasted panels
const COL_X = [6, 265, 530, 797, 1058];
const ROW_BOX_TOP = [43, 278, 517, 752, 987];

const PANELS = [
  { n: 1, data: ITEM_1, yMax: 1.21, ticks: TICKS_11 },
  { n: 9, data: ITEM_9, yMax: 1.2, ticks: TICKS_11 },
  { n: 16, data: ITEM_16, yMax: 1.19, ticks: TICKS_11 },
  { n: 23, data: ITEM_23, yMax: 1.19, ticks: TICKS_11 },
  { n: 28, data: ITEM_28, yMax: 1.18, ticks: TICKS_11 },
  { n: 32, data: ITEM_32, yMax: 1.2, ticks: TICKS_11 },
  { n: 3, data: ITEM_3, yMax: 1.27, ticks: TICKS_125 },
  { n: 10, data: ITEM_10, yMax: 1.27, ticks: TICKS_125 },
  { n: 18, data: ITEM_18, yMax: 1.27, ticks: TICKS_125 },
  { n: 25, data: ITEM_25, yMax: 1.27, ticks: TICKS_125 },
  { n: 30, data: ITEM_30, yMax: 1.27, ticks: TICKS_125 },
  { n: 33, data: ITEM_33, yMax: 1.27, ticks: TICKS_125 },
  { n: 5, data: ITEM_5, yMax: 0.81, ticks: TICKS_08 },
  { n: 12, data: ITEM_12, yMax: 0.935, ticks: TICKS_09 },
  { n: 19, data: ITEM_19, yMax: 0.935, ticks: TICKS_09 },
  { n: 27, data: ITEM_27, yMax: 0.81, ticks: TICKS_08 },
  { n: 6, data: ITEM_6, yMax: 1.17, ticks: TICKS_11 },
  { n: 15, data: ITEM_15, yMax: 1.17, ticks: TICKS_11 },
  { n: 24, data: ITEM_24, yMax: 1.17, ticks: TICKS_11 },
  { n: 29, data: ITEM_29, yMax: 1.17, ticks: TICKS_11 },
  { n: 8, data: ITEM_8, yMax: 1.27, ticks: TICKS_125 },
  { n: 17, data: ITEM_17, yMax: 1.27, ticks: TICKS_125 },
  { n: 26, data: ITEM_26, yMax: 1.27, ticks: TICKS_125 },
  { n: 31, data: ITEM_31, yMax: 1.24, ticks: TICKS_12 },
  { n: 34, data: ITEM_34, yMax: 1.27, ticks: TICKS_125 },
];

// coloured frames drawn around groups of panels
const FRAMES = [
  { x: 530, y: 8, w: 266, h: 238, c: "#ee4b2b" },
  { x: 1059, y: 8, w: 263, h: 239, c: "#ee5a35" },
  { x: 6, y: 244, w: 260, h: 2, c: "#ee4b2b", line: true },
  { x: 6, y: 484, w: 260, h: 2, c: "#ee4b2b", line: true },
  { x: 267, y: 246, w: 263, h: 240, c: "#4a72c8" },
  { x: 267, y: 486, w: 263, h: 232, c: "#4a72c8" },
  { x: 1059, y: 246, w: 263, h: 240, c: "#4a72c8" },
  { x: 798, y: 486, w: 262, h: 232, c: "#3a9e44" },
  { x: 1060, y: 486, w: 262, h: 232, c: "#3a9e44" },
  { x: 6, y: 718, w: 260, h: 2, c: "#3a9e44", line: true },
  { x: 6, y: 950, w: 260, h: 2, c: "#3a9e44", line: true },
  { x: 267, y: 719, w: 263, h: 233, c: "#f0df2c" },
  { x: 530, y: 719, w: 267, h: 232, c: "#f0df2c" },
  { x: 1060, y: 719, w: 262, h: 232, c: "#f0df2c" },
  { x: 267, y: 953, w: 263, h: 234, c: "#8b3b9b" },
  { x: 799, y: 953, w: 261, h: 234, c: "#8b3b9b" },
  { x: 1060, y: 953, w: 262, h: 234, c: "#8b3b9b" },
];

function fmtTick(step: number) {
  return (v: number) => v.toFixed(step < 0.2 ? 1 : 2).replace(".", ",");
}

function LegendBox() {
  return (
    <div
      style={{
        position: "absolute",
        left: 4,
        top: 196,
        width: 254,
        height: 26,
        border: "1px solid #6e6e6e",
        boxSizing: "border-box",
        fontFamily: FONT,
        fontSize: 8,
      }}
    >
      <div style={{ position: "absolute", left: 2, top: 2, display: "flex" }}>
        {CATEGORIES.map((c, i) => (
          <div key={c} style={{ display: "flex", alignItems: "center", width: 36, height: 10 }}>
            <svg width={22} height={6}>
              <line x1={0} y1={3} x2={22} y2={3} stroke={SERIES[i].color} strokeWidth={1.2} strokeDasharray={SERIES[i].dash} />
            </svg>
            <span style={{ marginLeft: 3, lineHeight: "10px", color: "#555" }}>{c}</span>
          </div>
        ))}
      </div>
      <div style={{ position: "absolute", left: 2, top: 13, display: "flex", alignItems: "center", height: 10 }}>
        <svg width={22} height={6}>
          <line x1={0} y1={3} x2={22} y2={3} stroke={SERIES[6].color} strokeWidth={1.6} />
        </svg>
        <span style={{ marginLeft: 5, lineHeight: "10px", color: "#444" }}>Información</span>
      </div>
    </div>
  );
}

function Panel({ idx }: { idx: number }) {
  const p = PANELS[idx];
  const left = COL_X[idx % 5];
  const top = ROW_BOX_TOP[Math.floor(idx / 5)] - 33;
  const rows = THETA.map((t, i) => ({
    theta: t,
    c0: p.data[0][i],
    c1: p.data[1][i],
    c2: p.data[2][i],
    c3: p.data[3][i],
    c4: p.data[4][i],
    c5: p.data[5][i],
    info: p.data[6][i],
  }));
  const step = p.ticks[1];
  return (
    <div style={{ position: "absolute", left, top, width: 262, height: 225 }}>
      <div
        style={{
          position: "absolute",
          left: 40,
          top: 14,
          width: 213,
          textAlign: "center",
          fontFamily: FONT,
          fontWeight: 700,
          fontSize: 13,
          lineHeight: "16px",
          color: "#111",
        }}
      >
        {"ítem " + p.n}
      </div>
      <LineChart width={262} height={193} data={rows} margin={{ top: 33, right: 9, bottom: 0, left: 0 }}>
        <XAxis
          dataKey="theta"
          type="number"
          domain={[-5.45, 5.45]}
          ticks={X_TICKS}
          interval={0}
          allowDataOverflow
          axisLine={false}
          tickLine={{ stroke: "#9a9a9a" }}
          tickSize={3}
          tickMargin={2}
          height={25}
          tick={{ fontSize: 7.5, fill: "#666", fontFamily: FONT }}
        />
        <YAxis
          type="number"
          domain={[-0.012, p.yMax]}
          ticks={p.ticks}
          interval={0}
          allowDataOverflow
          axisLine={false}
          tickLine={{ stroke: "#9a9a9a" }}
          tickSize={3}
          tickMargin={1}
          width={40}
          tickFormatter={fmtTick(step)}
          tick={{ fontSize: 7.5, fill: "#666", fontFamily: FONT }}
        />
        {SERIES.map((s) => (
          <Line
            key={s.key}
            dataKey={s.key}
            type="natural"
            stroke={s.color}
            strokeWidth={s.width}
            strokeDasharray={s.dash}
            dot={false}
            activeDot={false}
            isAnimationActive={false}
          />
        ))}
      </LineChart>
      <div
        style={{
          position: "absolute",
          left: 40,
          top: 33,
          width: 213,
          height: 135,
          border: "1px solid #c6c6c6",
          boxSizing: "border-box",
          pointerEvents: "none",
        }}
      />
      <div
        style={{
          position: "absolute",
          left: -35,
          top: 94,
          width: 100,
          textAlign: "center",
          transform: "rotate(-90deg)",
          fontFamily: FONT,
          fontWeight: 700,
          fontSize: 8.5,
          lineHeight: "12px",
          color: "#222",
        }}
      >
        Probabilidad
      </div>
      <div
        style={{
          position: "absolute",
          left: 40,
          top: 181,
          width: 213,
          textAlign: "center",
          fontFamily: FONT,
          fontWeight: 700,
          fontSize: 8.5,
          lineHeight: "12px",
          color: "#444",
        }}
      >
        Theta
      </div>
      <LegendBox />
    </div>
  );
}

export default function App() {
  return (
    <div style={{ position: "absolute", left: 0, top: 0, width: 1324, height: 1187, background: "#fff", overflow: "hidden" }}>
      {PANELS.map((p, i) => (
        <Panel key={p.n} idx={i} />
      ))}
      {FRAMES.map((f, i) => (
        <div
          key={i}
          style={{
            position: "absolute",
            left: f.x,
            top: f.y,
            width: f.w,
            height: f.h,
            boxSizing: "border-box",
            border: f.line ? "none" : `2px solid ${f.c}`,
            background: f.line ? f.c : "transparent",
            pointerEvents: "none",
          }}
        />
      ))}
    </div>
  );
}
